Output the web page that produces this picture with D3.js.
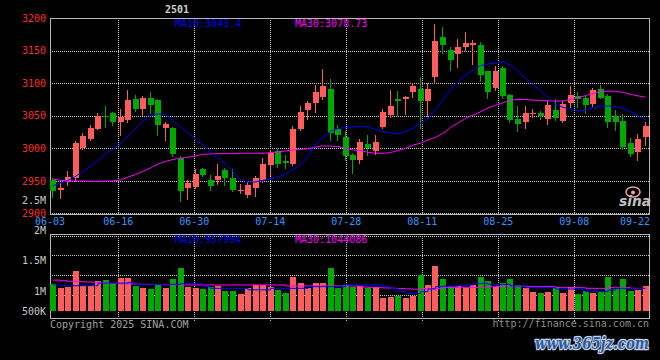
<!DOCTYPE html>
<html><head><meta charset="utf-8">
<script src="https://cdn.jsdelivr.net/npm/d3@7"></script>
<style>html,body{margin:0;padding:0;background:#000;overflow:hidden}svg{display:block}</style>
</head><body>
<svg id="c" width="660" height="360"></svg>
<script>
const dates = ["06-03","06-04","06-05","06-06","06-09","06-10","06-11","06-12","06-13","06-16","06-17","06-18","06-19","06-20","06-23","06-24","06-25","06-26","06-27","06-30",
"07-01","07-02","07-03","07-04","07-07","07-08","07-09","07-10","07-11","07-14","07-15","07-16","07-17","07-18","07-21","07-22","07-23","07-24","07-25","07-28","07-29","07-30","07-31",
"08-01","08-04","08-05","08-06","08-07","08-08","08-11","08-12","08-13","08-14","08-15","08-18","08-19","08-20","08-21","08-22","08-25","08-26","08-27","08-28","08-29",
"09-01","09-02","09-03","09-04","09-05","09-08","09-09","09-10","09-11","09-12","09-15","09-16","09-17","09-18","09-19","09-22"];

const open = [2951,2936,2949,2954,3000,3014,3030,3050,3055,3041, 3044,3075,3060,3077,3074,3031,3031,2986,2940,2941,
2968,2951,2951,2967,2954,2934.5,2928.4,2940,2951.5,2974.6, 2996,2980.7,2976,3030,3059,3070,3079.5,3091,3030,3017,
2990,2982,3007,2996.6,3033,3051,3076,3076,3086,3091, 3072,3110,3171,3151,3145,3155,3158,3159,3118,3092,
3124,3082,3045,3040,3053,3054,3045,3059,3042,3070, 3080,3078,3068,3091,3080,3050,3042,3008,2995,3018];
const high = [2954,2947,2965,3011,3023,3036,3055,3065,3056,3061, 3089,3082,3080,3087,3076,3040,3033,2988,2951,2968,
2970,2959,2976,2969.5,2969,2945,2949,2957.6,2985,2998, 2998.7,2990,3035,3065,3072,3097,3122,3107,3036,3027,
2993.6,3014,3021,3021,3061,3090,3088,3080,3100,3109, 3100,3191,3186,3156,3168,3178,3166,3163,3119,3127,
3127,3084,3065,3065,3061,3058,3074,3076,3072,3096, 3086,3080,3092,3097,3083,3059,3053,3016,3022,3041];
const low = [2926,2924,2944,2950,2999,3013,3029,3033,3036,3021, 3040,3058,3051,3054,3021,3013,2988,2920,2923,2940,
2957,2936,2945,2944,2935,2931,2925,2927,2949,2959, 2972,2969.5,2975,3028,3045,3056,3076,3013,3013,2982,
2963,2978,2990,2991,3031,3048,3051,3053,3079,3032, 3050,3100,3147,3120,3125,3151,3130,3103,3077,3089,
3078,3040,3026,3031,3048,3045,3038,3043,3041,3064, 3064,3055,3065,3077,3033,3028,2999,2988,2982,3005];
const close = [2934,2939,2956,3009,3019,3031,3049,3049,3041,3048, 3074,3061,3078,3067,3036,3038,2992,2935,2947,2961,
2959,2942,2957.6,2954,2936,2936,2944,2954,2976,2992.5, 2976,2977,3030,3056,3070,3087,3096,3023,3021,2989,
2982,3010,3000,3010,3056,3065.5,3072,3079,3095,3073, 3091,3164,3158,3136,3155,3162,3161,3113,3087,3118,
3080,3044,3038,3055,3054,3050,3067,3047,3068,3082, 3076,3067,3089,3078,3041,3041,3002,2992,3014,3035];
const ma10 = [2943,2947,2951,2957,2964,2973,2981,2992,2999,3007, 3019,3030,3042,3050,3053,3052,3043,3033,3024,3014,
3005,2995,2985,2976,2965,2952,2948.5,2948.5,2951,2953.5, 2956.5,2960.5,2967,2975,2988,3006,3017,3026,3030.5,3032,
3033,3034,3033,3029,3026,3024,3022,3025.5,3031,3038, 3045,3060,3075,3090,3102,3112,3120,3127,3129.5,3131,
3133,3128,3119,3107,3098,3088,3078,3068,3063,3060, 3058,3058.5,3062,3065,3065,3064,3061,3056,3050,3043.4];
const ma30 = [2953,2951,2950,2950,2950,2949.5,2949.5,2950,2950,2951.5, 2956,2960,2965,2970,2976,2980,2983,2985,2986.5,2988.5,
2991,2991.5,2992,2992,2992,2992.5,2992.5,2992.5,2992.5,2993.5, 2994.5,2996,2997.5,2998.5,2999.5,3002,3004,3003.5,3003,3000,
2997.5,2996.5,2994,2992.5,2992.5,2993.5,2997,3000,3005,3008, 3013,3017,3023,3032,3039,3046,3051,3056,3062,3066,
3070,3074,3075,3075,3074,3073.5,3073,3072.6,3073,3075, 3077.5,3081,3084,3087,3088,3087.5,3086,3083,3080.5,3078.73];
const volume = [1111,1044,1072,1330,1088,1088,1165,1180,1111,1220, 1220,1088,1055,1033,1100,1044,1198,1385,1072,1055,
1040,1072,1080,1000,1000,950,1044,1100,1100,1072, 1016,972,1237,1138,1044,1138,1127,1385,1044,1100,
1072,1083,1055,1072,879,906,923,890,920,1264, 1100,1413,1198,1083,1083,1044,1100,1237,1165,1072,
1138,1198,1100,1044,990,972,990,1072,972,1072, 945,1000,972,990,1237,1033,1198,1000,1016,1083].map(v => v * 1000);
const volMa10 = [1100,1088,1088,1088,1088,1088,1130,1130,1130,1130, 1140,1110,1110,1110,1110,1110,1110,1120,1120,1120,
1072,1044,1044,1044,1044,1044,1020,1020,1020,1044, 1044,1044,1044,1044,1072,1072,1072,1072,1072,1100,
1100,1100,1100,1100,1072,1044,990,960,960,990, 1033,1072,1080,1080,1100,1100,1127,1127,1110,1110,
1110,1083,1083,1055,1055,1055,1055,1033,1033,1033, 1033,990,990,990,1016,1044,1044,1044,1044,1044].map(v => v * 1000);
const volMa30 = [1180,1170,1160,1155,1150,1145,1130,1127,1125,1120, 1115,1112,1110,1108,1106,1104,1102,1100,1100,1100,
1100,1100,1100,1100,1100,1100,1100,1100,1100,1100, 1100,1083,1083,1083,1083,1083,1083,1083,1083,1083,
1083,1065,1060,1055,1050,1045,1040,1035,1030,1040, 1044,1044,1060,1060,1060,1060,1060,1065,1070,1075,
1080,1080,1080,1072,1072,1072,1072,1055,1055,1055, 1055,1044,1044,1044,1055,1055,1055,1044,1044,1044].map(v => v * 1000);

const priceTicks = [3200,3150,3100,3050,3000,2950,2900];
const volTicks = [2500000,2000000,1500000,1000000,500000];
const volTickLabels = ["2.5M","2M","1.5M","1M","500K"];
const dateTickIdx = [0,9,19,29,39,49,59,69,79];
const legendMain = ["MA10:3043.4","MA30:3078.73"];
const legendVol = ["MA10:957994","MA30:1044086"];

const RED = "#ff5c5c", GREEN = "#00a800", GRID = "#c4c4c4", BORDER = "#b8b8b8";
const FONT = "'DejaVu Sans Mono', 'Liberation Mono', monospace";
const L = 50, R = 650, PT = 18, PB = 213.6, VT = 234, VB = 318, VBASE = 311;

const svg = d3.select("#c");
svg.append("rect").attr("width",660).attr("height",360).attr("fill","#000");
const crisp = v => Math.round(v) + 0.5;

const x = d3.scaleLinear().domain([0, 80]).range([L, R]);
const yP = d3.scaleLinear().domain([2900, 3200]).range([PB, PT]);
const yV = d3.scaleLinear().domain([1000000, 2000000]).range([291, 230.5]);
const gx = d3.scaleLinear().domain([1, 8]).range([118.3, 650.3]);

// grid: price panel
const g = svg.append("g");
priceTicks.slice(1).forEach(v => {
  const yy = crisp(yP(v)) - (v === 2900 ? 1 : 0);
  g.append("line").attr("x1",L).attr("x2",R).attr("y1",yy).attr("y2",yy)
   .attr("stroke",GRID).attr("stroke-dasharray","1,1");
});
[1,2,3,4,5,6,7].forEach(k => {
  g.append("line").attr("x1",crisp(gx(k))).attr("x2",crisp(gx(k))).attr("y1",PT).attr("y2",214)
   .attr("stroke",GRID).attr("stroke-dasharray","1,1");
  g.append("line").attr("x1",crisp(gx(k))).attr("x2",crisp(gx(k))).attr("y1",VT).attr("y2",321)
   .attr("stroke",GRID).attr("stroke-dasharray","1,1");
});
// volume panel horizontal grid
[255,275,295].forEach(yy => {
  g.append("line").attr("x1",L).attr("x2",R).attr("y1",yy+0.5).attr("y2",yy+0.5)
   .attr("stroke",GRID).attr("stroke-dasharray","1,1");
});
g.append("line").attr("x1",L).attr("x2",R).attr("y1",VT+2.5).attr("y2",VT+2.5).attr("stroke",GRID).attr("stroke-dasharray","1,1");

// borders
svg.append("rect").attr("x",L+0.5).attr("y",PT+0.5).attr("width",R-L-1).attr("height",214-PT)
  .attr("fill","none").attr("stroke",BORDER);
svg.append("rect").attr("x",L+0.5).attr("y",VT+0.5).attr("width",R-L-1).attr("height",VB-VT)
  .attr("fill","none").attr("stroke",BORDER);

// price labels
svg.append("g").selectAll("text").data(priceTicks).join("text")
  .attr("x",46).attr("y",d => yP(d)+3.5).attr("text-anchor","end")
  .attr("fill","#ff2a2a").attr("font-family",FONT).attr("font-size",10).text(d => d);
// volume labels
svg.append("g").selectAll("text").data(volTicks).join("text")
  .attr("x",46).attr("y",d => Math.min(yV(d), VBASE)+3.5).attr("text-anchor","end")
  .attr("fill","#c8c8c8").attr("font-family",FONT).attr("font-size",10).text((d,i) => volTickLabels[i]);
// date labels
svg.append("g").selectAll("text").data(dateTickIdx).join("text")
  .attr("x",(d,k) => k===0 ? L : (k===8 ? R : gx(k)))
  .attr("y",225).attr("text-anchor",(d,k) => k===8 ? "end" : "middle")
  .attr("fill","#2f95ff").attr("font-family",FONT).attr("font-size",10).text(d => dates[d]);

// candles
const idx = d3.range(close.length);
const cg = svg.append("g");
idx.forEach(i => {
  const up = close[i] >= open[i];
  const col = up ? RED : GREEN;
  const left = Math.round(x(i));
  cg.append("line").attr("x1",left+2.5).attr("x2",left+2.5)
    .attr("y1",Math.round(yP(high[i]))).attr("y2",Math.round(yP(low[i]))+1).attr("stroke",col);
  const yt = Math.round(yP(Math.max(open[i],close[i])));
  const yb = Math.round(yP(Math.min(open[i],close[i])));
  cg.append("rect").attr("x",left).attr("y",yt).attr("width",6).attr("height",Math.max(1,yb-yt)).attr("fill",col);
});

// MA lines price
const lineP = arr => d3.line().x((d,i) => x(i)+3).y(d => yP(d))(arr);
svg.append("path").attr("d",lineP(ma30)).attr("fill","none").attr("stroke","#ff00ff").attr("stroke-width",1);
svg.append("path").attr("d",lineP(ma10)).attr("fill","none").attr("stroke","#0000ff").attr("stroke-width",1);

// volume bars
const vg = svg.append("g");
idx.forEach(i => {
  const up = close[i] >= open[i];
  const yt = Math.round(yV(volume[i]));
  vg.append("rect").attr("x",Math.round(x(i))).attr("y",yt).attr("width",6).attr("height",VBASE-yt)
    .attr("fill",up ? RED : GREEN);
});
const lineV = arr => d3.line().x((d,i) => x(i)+3).y(d => yV(d)).curve(d3.curveStepAfter)(arr);
svg.append("path").attr("d",lineV(volMa30)).attr("fill","none").attr("stroke","#ff00ff").attr("stroke-width",1);
svg.append("path").attr("d",lineV(volMa10)).attr("fill","none").attr("stroke","#0000ff").attr("stroke-width",1);

// legends
const leg = (t, xx, yy, c) => svg.append("text").attr("x",xx).attr("y",yy).attr("fill",c)
  .attr("font-family",FONT).attr("font-size",10).text(t);
leg(legendMain[0],175,27,"#0000ff"); leg(legendMain[1],295,27,"#ff00ff");
leg(legendVol[0],175,242.5,"#0000ff"); leg(legendVol[1],295,242.5,"#ff00ff");

// title
svg.append("text").attr("x",165).attr("y",13).attr("fill","#d0d0d0").attr("font-family",FONT)
  .attr("font-size",10).attr("font-weight","bold").text("2501");

// footer
svg.append("text").attr("x",50).attr("y",328).attr("fill","#a0a0a0").attr("font-family",FONT)
  .attr("font-size",10).text("Copyright 2025 SINA.COM");
svg.append("text").attr("x",649).attr("y",327).attr("text-anchor","end").attr("fill","#8c8c8c").attr("font-family",FONT)
  .attr("font-size",10).text("http://finance.sina.com.cn");

// sina logo
svg.append("ellipse").attr("cx",633).attr("cy",192).attr("rx",7).attr("ry",5)
  .attr("fill","none").attr("stroke","#f4a0a0").attr("stroke-width",1.5);
svg.append("circle").attr("cx",633).attr("cy",192.5).attr("r",2).attr("fill","#f4a0a0");
svg.append("text").attr("x",619).attr("y",206).attr("fill","#c0c0c0").attr("font-family","'DejaVu Sans', sans-serif")
  .attr("font-size",14).attr("font-weight","bold").attr("font-style","italic")
  .attr("textLength",32).attr("lengthAdjust","spacingAndGlyphs").text("sina");

// watermark
svg.append("text").attr("x",535).attr("y",349).attr("fill","#2c5a9c").attr("stroke","#c8d4e8").attr("stroke-width",2.5)
  .attr("paint-order","stroke").attr("font-family","'DejaVu Serif', serif").attr("font-size",17)
  .attr("font-weight","bold").attr("font-style","italic")
  .attr("textLength",114).attr("lengthAdjust","spacingAndGlyphs").text("www.365jz.com");
</script>
</body></html>
